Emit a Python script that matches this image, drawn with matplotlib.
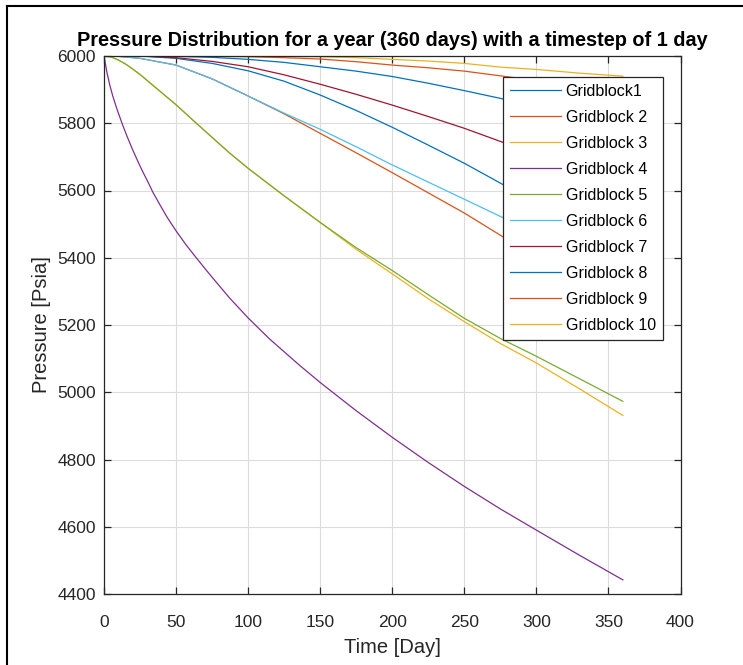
import numpy as np
import matplotlib
matplotlib.use('Agg')
import matplotlib.pyplot as plt
from matplotlib.lines import Line2D

plt.rcParams['font.family'] = ['Liberation Sans', 'DejaVu Sans']

# ------  Values  ----------------------------------------------------------
days = [0, 10, 25, 50, 75, 100, 125, 150, 175, 200, 225, 250, 275, 300, 330, 360]

gb1 = [6000, 6000, 6000, 5993, 5978, 5956, 5925, 5884, 5838, 5788, 5735, 5681, 5622, 5563, 5494, 5427]
gb2 = [6000, 5999, 5993, 5973, 5932, 5881, 5828, 5770, 5712, 5653, 5593, 5533, 5467, 5402, 5325, 5250]
gb6 = [6000, 5999, 5993, 5973, 5932, 5881, 5830, 5782, 5730, 5676, 5625, 5574, 5523, 5472, 5412, 5353]
gb7 = [6000, 6000, 6000, 5995, 5984, 5968, 5944, 5916, 5886, 5854, 5820, 5785, 5746, 5708, 5661, 5615]
gb8 = [6000, 6000, 6000, 5999, 5996, 5990, 5981, 5968, 5955, 5939, 5919, 5897, 5874, 5851, 5823, 5794]
gb9 = [6000, 6000, 6000, 6000, 5999, 5998, 5995, 5991, 5983, 5973, 5965, 5955, 5941, 5927, 5909, 5890]
gb10 = [6000, 6000, 6000, 6000, 6000, 6000, 5999, 5998, 5995, 5990, 5985, 5978, 5967, 5960, 5949, 5940]

# blocks next to the well (3 and 5), read with more points at the start
days35 = [0, 5, 10, 15, 20, 25, 30, 40, 50, 62, 75, 87, 100, 125, 150, 175, 200, 225, 250, 275, 300, 330, 360]
gb3 = [6000, 5997, 5988, 5976, 5961, 5945, 5927, 5891, 5855, 5808, 5758, 5712, 5666, 5584, 5505,
       5425, 5352, 5278, 5210, 5145, 5087, 5010, 4931]
gb5 = [6000, 5997, 5988, 5976, 5961, 5945, 5927, 5891, 5855, 5808, 5758, 5712, 5666, 5584, 5505,
       5430, 5362, 5290, 5220, 5160, 5107, 5040, 4973]

# block 4 (well block) drops fast
days4 = [0, 2, 4, 6, 9, 13, 16, 20, 24, 27, 31, 34, 39, 44, 50, 57, 64, 70, 76, 87, 100, 115,
         136, 150, 175, 200, 225, 250, 275, 300, 330, 360]
gb4 = [6000, 5952, 5914, 5882, 5842, 5794, 5761, 5720, 5682, 5655, 5621, 5594, 5556, 5519, 5480,
       5438, 5400, 5368, 5337, 5281, 5221, 5158, 5079, 5029, 4945, 4866, 4791, 4720, 4653, 4590,
       4515, 4442]

labels = ['Gridblock1', 'Gridblock 2', 'Gridblock 3', 'Gridblock 4', 'Gridblock 5',
          'Gridblock 6', 'Gridblock 7', 'Gridblock 8', 'Gridblock 9', 'Gridblock 10']

# MATLAB default line colours
colors = ['#0072BD', '#D95319', '#EDB120', '#7E2F8E', '#77AC30',
          '#4DBEEE', '#A2142F', '#0072BD', '#D95319', '#EDB120']

series = [(days, gb1), (days, gb2), (days35, gb3), (days4, gb4), (days35, gb5),
          (days, gb6), (days, gb7), (days, gb8), (days, gb9), (days, gb10)]

# -------  Plot  --------------------------------------------------------------
fig = plt.figure(figsize=(7.43, 6.65), dpi=100)
ax = fig.add_axes([104 / 743, 71 / 665, 576.5 / 743, 538 / 665])

for (x, y), lab, c in zip(series, labels, colors):
    ax.plot(x, y, color=c, lw=0.9, label=lab)

ax.set_xlim(0, 400)
ax.set_ylim(4400, 6000)
ax.set_xticks(np.arange(0, 401, 50))
ax.set_yticks(np.arange(4400, 6001, 200))
ax.grid(True, color='#dcdcdc', lw=0.8)
ax.set_axisbelow(True)
ax.tick_params(direction='in', top=True, right=True, length=5, width=0.9,
               colors='#262626', labelsize=12.5)
ax.tick_params(axis='x', pad=15)
ax.tick_params(axis='y', pad=6)
for s in ax.spines.values():
    s.set_color('#262626')
    s.set_linewidth(0.9)

ax.set_xlabel('Time [Day]', fontsize=14.5, color='#262626', labelpad=6)
ax.set_ylabel('Pressure [Psia]', fontsize=14.5, color='#262626', labelpad=4)
ax.set_title('Pressure Distribution for a year (360 days) with a timestep of 1 day',
             fontsize=14.3, fontweight='bold', pad=7)

leg = ax.legend(loc='upper right', bbox_to_anchor=(0.9696, 0.9615), borderaxespad=0,
                fontsize=11.5, handlelength=3.2, handletextpad=0.3, labelspacing=0.69,
                borderpad=0.45, fancybox=False, framealpha=1, edgecolor='#262626')
leg.get_frame().set_linewidth(0.9)

# screenshot frame on the top and left edges
fig.add_artist(Line2D([7 / 743, 1], [1 - 6 / 665, 1 - 6 / 665], transform=fig.transFigure,
                      color='black', lw=1.5))
fig.add_artist(Line2D([7 / 743, 7 / 743], [0, 1 - 6 / 665], transform=fig.transFigure,
                      color='black', lw=1.5))

fig.savefig('out.png', dpi=100)
